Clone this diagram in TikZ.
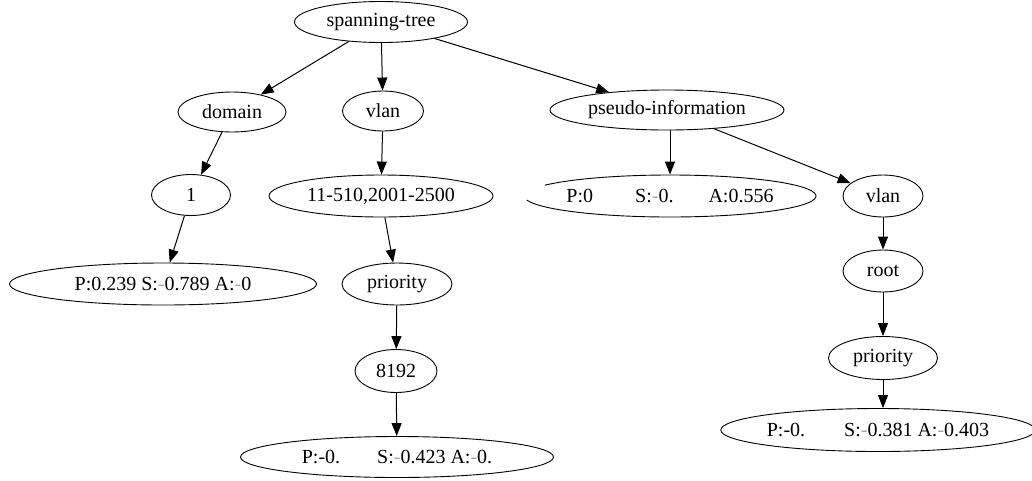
\documentclass[tikz,border=0pt]{standalone}
\usepackage{fontspec}
\setmainfont{Liberation Serif}
\usetikzlibrary{shapes.geometric,arrows.meta}
\newcommand{\fm}{{\color{black!35}-}}
\tikzset{
  nd/.style={ellipse, draw, line width=0.9pt, inner sep=0pt, font=\fontsize{20}{24}\selectfont},
  arr/.style={-{Triangle[length=13pt,width=10pt]}, line width=1pt}
}
\begin{document}
\begin{tikzpicture}[x=1pt,y=-1pt]
\useasboundingbox (0,0) rectangle (1032,480);
\node[nd, minimum width=173pt, minimum height=41pt] (st) at (381,22) {spanning-tree};
\node[nd, minimum width=108pt, minimum height=40pt] (dom) at (232,112) {domain};
\node[nd, minimum width=81pt, minimum height=40pt] (vl1) at (383,111) {vlan};
\node[nd, minimum width=234pt, minimum height=40pt] (pi) at (667,110) {pseudo-information};
\node[nd, minimum width=79pt, minimum height=41pt] (one) at (191,195) {1};
\node[nd, minimum width=224pt, minimum height=42pt] (rng) at (381,196) {11-510,2001-2500};
\node[nd, draw=none, minimum width=292pt, minimum height=42pt] (p0) at (670,196) {P:0\hspace{42pt}S:\fm 0.\hspace{35pt}A:0.556};
\draw[line width=0.9pt] ([shift={(211:146pt and -21pt)}]p0.center) arc[start angle=211, end angle=529, x radius=146pt, y radius=-21pt];
\node[nd, minimum width=80pt, minimum height=42pt] (vl2) at (883,196) {vlan};
\node[nd, minimum width=307pt, minimum height=42pt] (pa) at (163,284) {P:0.239 S:\fm 0.789 A:\fm 0};
\node[nd, minimum width=110pt, minimum height=42pt] (pr1) at (397,284) {priority};
\node[nd, minimum width=80pt, minimum height=42pt] (root) at (883,271) {root};
\node[nd, minimum width=82pt, minimum height=43pt] (n8192) at (396,371) {8192};
\node[nd, minimum width=109pt, minimum height=43pt] (pr2) at (883,358) {priority};
\node[nd, minimum width=313pt, minimum height=41pt] (pb) at (397,457) {P:-0.\hspace{37pt}S:\fm 0.423 A:\fm 0.};
\node[nd, minimum width=306pt, minimum height=43pt] (pc) at (878,430) {P:-0.\hspace{39pt}S:\fm 0.381 A:\fm 0.403};
\draw[arr] (st) -- (dom);
\draw[arr] (st) -- (vl1);
\draw[arr] (st) -- (pi);
\draw[arr] (dom) -- (one);
\draw[arr] (one) -- (pa);
\draw[arr] (vl1) -- (rng);
\draw[arr] (rng) -- (pr1);
\draw[arr] (pr1) -- (n8192);
\draw[arr] (n8192) -- (pb);
\draw[arr] (pi.south -| p0.north) -- (p0.north);
\draw[arr] (pi) -- (vl2);
\draw[arr] (vl2) -- (root);
\draw[arr] (root) -- (pr2);
\draw[arr] (pr2) -- (pr2 |- pc.north);
\end{tikzpicture}
\end{document}
